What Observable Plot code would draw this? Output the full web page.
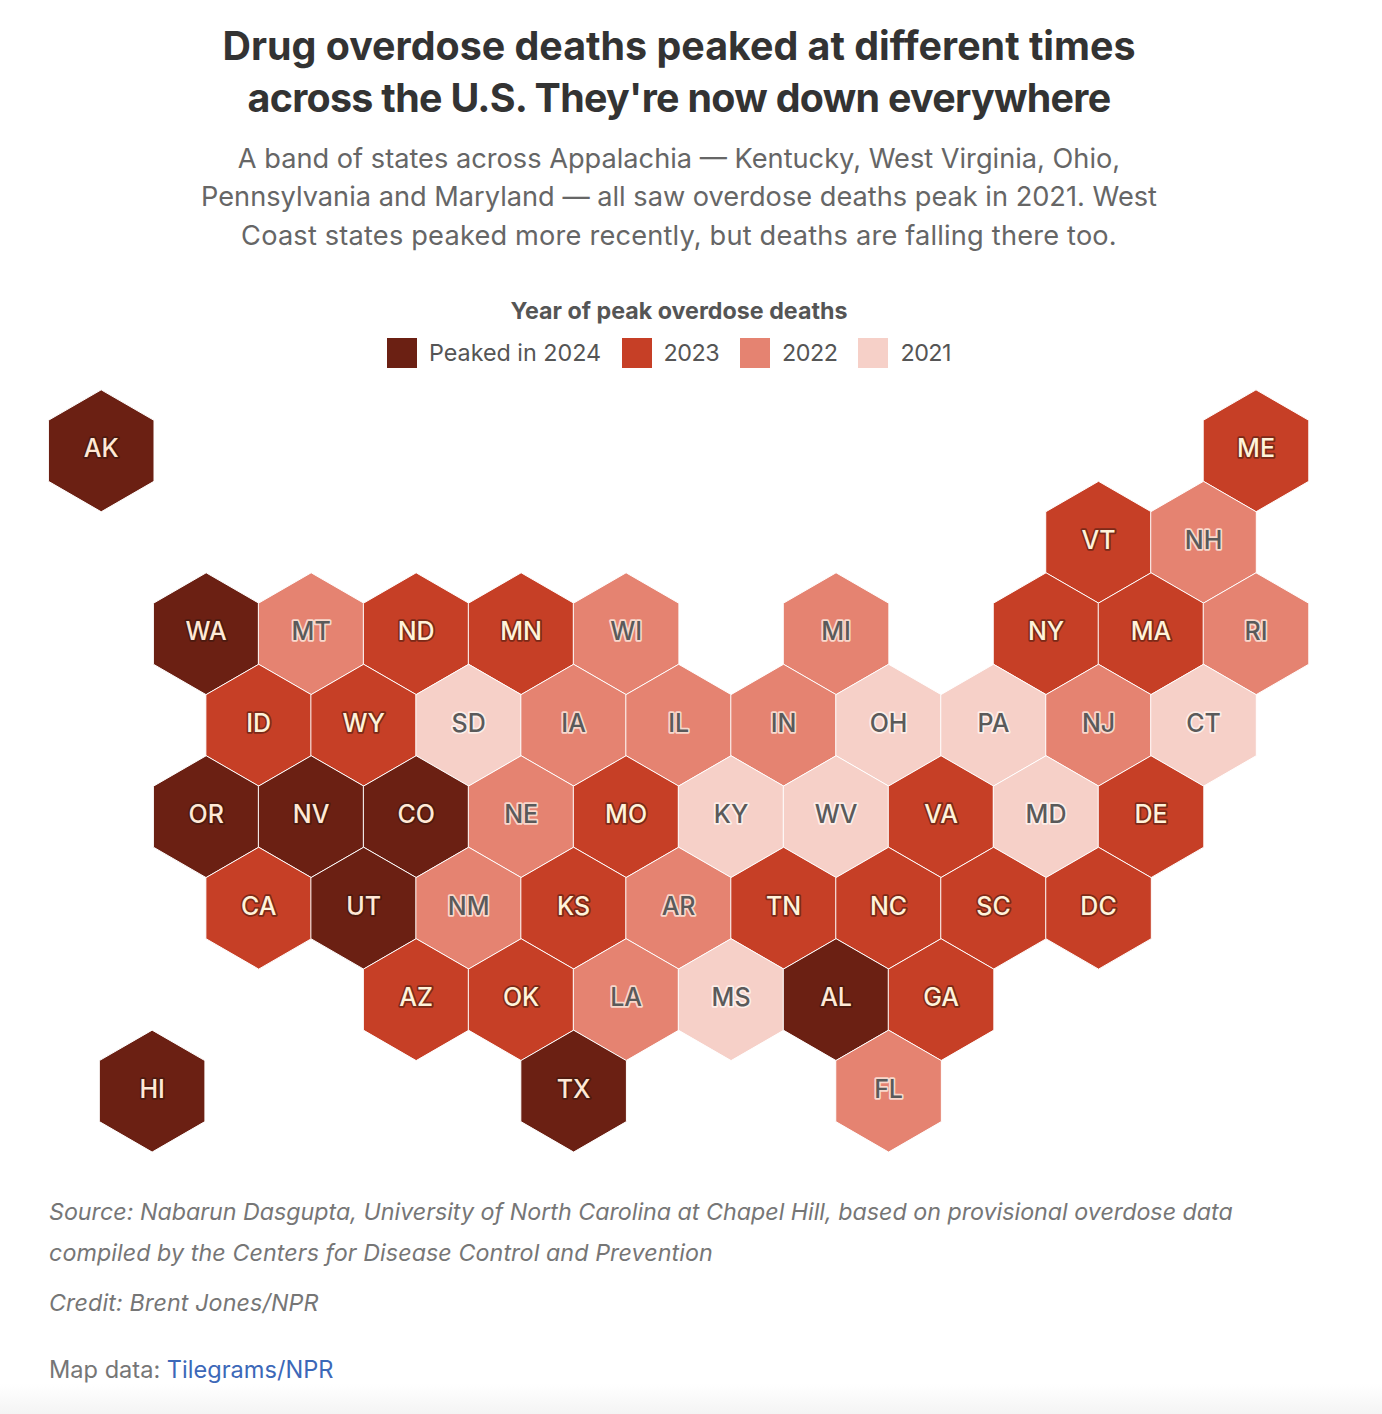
<!DOCTYPE html>
<html><head><meta charset="utf-8">
<script src="https://cdn.jsdelivr.net/npm/d3@7"></script>
<script src="https://cdn.jsdelivr.net/npm/@observablehq/plot@0.6"></script>
<style>
html,body{margin:0;padding:0;background:#fff;}
body{position:relative;width:1382px;height:1414px;overflow:hidden;font-family:Inter,"Noto Sans",sans-serif;}
.t{position:absolute;white-space:nowrap;}
#title{left:0;width:1358px;text-align:center;top:20px;font-size:39.4px;line-height:52px;font-weight:700;color:#333;}
#sub{left:0;width:1358px;text-align:center;top:140px;font-size:27.2px;line-height:38.4px;color:#666;}
#lt{left:0;width:1358px;text-align:center;top:296px;font-size:23.25px;line-height:30px;font-weight:700;color:#555;}
#legend{left:387px;top:338px;display:flex;align-items:center;font-size:23.3px;color:#555;line-height:30px;}
#legend .s{width:30px;height:30px;margin-right:12px;}
#legend .i{display:flex;align-items:center;margin-right:21px;}
#legend .i:first-child{margin-right:20.5px;}
#legend .i:not(:first-child) span{letter-spacing:-0.5px;}
#chart{position:absolute;left:0;top:380px;}
.c{left:49px;font-size:23.25px;line-height:41px;font-style:italic;color:#767676;}
#map{left:49px;top:1354px;font-size:23.6px;line-height:32px;color:#767676;}
#map a{color:#3c68b8;text-decoration:none;}
#fade{position:absolute;left:0;right:0;top:1384px;height:30px;background:linear-gradient(#fff,#f4f4f4);}
</style></head><body>
<div id="fade"></div>
<div class="t" id="title">Drug overdose deaths peaked at different times<br><span style="letter-spacing:-0.7px">across the U.S. They're now down everywhere</span></div>
<div class="t" id="sub">A band of states across Appalachia — Kentucky, West Virginia, Ohio,<br>Pennsylvania and Maryland — all saw overdose deaths peak in 2021. West<br><span style="letter-spacing:0.19px">Coast states peaked more recently, but deaths are falling there too.</span></div>
<div class="t" id="lt">Year of peak overdose deaths</div>
<div class="t" id="legend"></div>
<div id="chart"></div>
<div class="t c" style="top:1191px">Source: Nabarun Dasgupta, University of North Carolina at Chapel Hill, based on provisional overdose data<br><span style="letter-spacing:0.09px">compiled by the Centers for Disease Control and Prevention</span></div>
<div class="t c" style="top:1282px;letter-spacing:0.13px">Credit: Brent Jones/NPR</div>
<div class="t" id="map">Map data: <a href="#">Tilegrams/NPR</a></div>
<script>
const states = ["AK","ME","VT","NH","WA","MT","ND","MN","WI","MI","NY","MA","RI","ID","WY","SD","IA","IL","IN","OH","PA","NJ","CT","OR","NV","CO","NE","MO","KY","WV","VA","MD","DE","CA","UT","NM","KS","AR","TN","NC","SC","DC","AZ","OK","LA","MS","AL","GA","HI","TX","FL"];
const cols   = [0,22,19,21,2,4,6,8,10,14,18,20,22,3,5,7,9,11,13,15,17,19,21,2,4,6,8,10,12,14,16,18,20,3,5,7,9,11,13,15,17,19,6,8,10,12,14,16,0.97,9,15];
const rows   = [0,0,1,1,2,2,2,2,2,2,2,2,2,3,3,3,3,3,3,3,3,3,3,4,4,4,4,4,4,4,4,4,4,5,5,5,5,5,5,5,5,5,6,6,6,6,6,6,7,7,7];
const years  = [2024,2023,2023,2022,2024,2022,2023,2023,2022,2022,2023,2023,2022,2023,2023,2021,2022,2022,2022,2021,2021,2022,2021,2024,2024,2024,2022,2023,2021,2021,2023,2021,2023,2023,2024,2022,2023,2022,2023,2023,2023,2023,2023,2023,2022,2021,2024,2023,2024,2024,2022];
const legendYears = [2024,2023,2022,2021];
const legendLabels = ["Peaked in 2024","2023","2022","2021"];
const fills = ["#6b2013","#c63f26","#e58371","#f6d0c8"];
const labelFills = ["#ffe9d6","#fff3da","#5a5a5a","#5a5a5a"];
const halos = ["#4d1a10","#7c2a18","#f8d8cc","#fdeee9"];

const table = states.map((s,i)=>({state:s,col:cols[i],row:rows[i],year:years[i]}));
const idx = y => legendYears.indexOf(y);

const legend = d3.select("#legend");
legendYears.forEach((y,i)=>{
  const it = legend.append("div").attr("class","i");
  it.append("div").attr("class","s").style("background",fills[i]);
  it.append("span").text(legendLabels[i]);
});

const plot = Plot.plot({
  width:1382, height:790,
  margin:0,
  x:{domain:[0,22],range:[100.7,1255.5],axis:null},
  y:{domain:[0,7],range:[70.3,710.6],axis:null},
  color:{domain:legendYears,range:fills},
  style:{background:"transparent",overflow:"visible"},
  marks:[
    Plot.dot(table,{x:"col",y:"row",symbol:"hexagon",r:52.8,fill:"year",stroke:"#fff",strokeWidth:1}),
    Plot.text(table,{x:"col",y:"row",text:"state",fontFamily:"Inter,'Noto Sans',sans-serif",fontSize:25,fontWeight:500,
      fill:d=>labelFills[idx(d.year)],stroke:d=>halos[idx(d.year)],strokeWidth:3.5,paintOrder:"stroke",dy:-1.5})
  ]
});
document.getElementById("chart").appendChild(plot);
</script>
</body></html>
